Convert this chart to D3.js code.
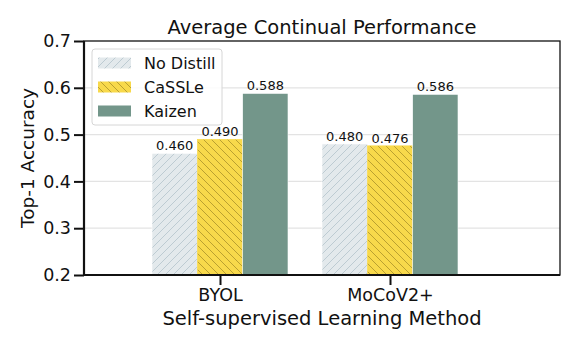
<!DOCTYPE html>
<html>
<head>
<meta charset="utf-8">
<script src="https://cdn.jsdelivr.net/npm/d3@7"></script>
<style>
  body { margin: 0; background: #fff; }
  text { font-family: "DejaVu Sans", sans-serif; fill: #111; }
</style>
</head>
<body>
<div id="chart"></div>
<script>
var methods = ["BYOL", "MoCoV2+"];
var seriesNames = ["No Distill", "CaSSLe", "Kaizen"];
var noDistill = [0.460, 0.480];
var cassle = [0.490, 0.476];
var kaizen = [0.588, 0.586];
var yTicks = [0.2, 0.3, 0.4, 0.5, 0.6, 0.7];

var W = 581, H = 349;
var mLeft = 84, mRight = 560, mTop = 41, mBottom = 275;

var svg = d3.select("#chart").append("svg")
    .attr("width", W).attr("height", H);

var defs = svg.append("defs");
// hatch patterns
var p1 = defs.append("pattern").attr("id", "hatchFwd")
    .attr("patternUnits", "userSpaceOnUse").attr("width", 8).attr("height", 8);
p1.append("rect").attr("width", 8).attr("height", 8).attr("fill", "#e3e9ec");
p1.append("path").attr("d", "M-2,2 L2,-2 M0,8 L8,0 M6,10 L10,6")
    .attr("stroke", "#b9c7cf").attr("stroke-width", 0.9);
var p2 = defs.append("pattern").attr("id", "hatchBack")
    .attr("patternUnits", "userSpaceOnUse").attr("width", 8).attr("height", 8);
p2.append("rect").attr("width", 8).attr("height", 8).attr("fill", "#f8d94b");
p2.append("path").attr("d", "M-2,6 L2,10 M0,0 L8,8 M6,-2 L10,2")
    .attr("stroke", "#b39a2c").attr("stroke-width", 0.9);

var fills = ["url(#hatchFwd)", "url(#hatchBack)", "#73968a"];
var allSeries = [noDistill, cassle, kaizen];

var x = d3.scaleLinear().domain([-0.8, 2.0]).range([mLeft, mRight]);
var y = d3.scaleLinear().domain([0.2, 0.7]).range([mBottom, mTop]);
var bw = 0.8 / 3;

// grid
svg.append("g").selectAll("line").data(yTicks.slice(1, -1)).enter().append("line")
    .attr("x1", mLeft).attr("x2", mRight)
    .attr("y1", function(d){ return y(d); }).attr("y2", function(d){ return y(d); })
    .attr("stroke", "#e3e3e3").attr("stroke-width", 1.2);

// bars
var bars = [];
allSeries.forEach(function(vals, s){
    vals.forEach(function(v, i){
        bars.push({s: s, i: i, v: v});
    });
});
svg.append("g").selectAll("rect").data(bars).enter().append("rect")
    .attr("x", function(d){ return x(d.i + (d.s - 1.5) * bw); })
    .attr("width", function(d){ return x(bw) - x(0); })
    .attr("y", function(d){ return y(d.v); })
    .attr("height", function(d){ return y(0.2) - y(d.v); })
    .attr("fill", function(d){ return fills[d.s]; })
    .attr("stroke", function(d){ return d.s == 1 ? "#f8d94b" : "#ffffff"; })
    .attr("stroke-width", 0.6);

// value labels
svg.append("g").selectAll("text").data(bars).enter().append("text")
    .attr("x", function(d){ return x(d.i + (d.s - 1) * bw); })
    .attr("y", function(d){ return y(d.v) - 3; })
    .attr("text-anchor", "middle")
    .style("font-size", "13px")
    .text(function(d){ return d.v.toFixed(3); });

// frame
svg.append("rect").attr("x", mLeft).attr("y", mTop)
    .attr("width", mRight - mLeft).attr("height", mBottom - mTop)
    .attr("fill", "none").attr("stroke", "#111").attr("stroke-width", 1.3);

// axes
var yAxis = svg.append("g").attr("transform", "translate(" + mLeft + ",0)")
    .call(d3.axisLeft(y).tickValues(yTicks).tickFormat(d3.format(".1f")).tickSize(10).tickPadding(3));
var xAxis = svg.append("g").attr("transform", "translate(0," + mBottom + ")")
    .call(d3.axisBottom(x).tickValues([0, 1]).tickFormat(function(d){ return methods[d]; }).tickSize(10).tickPadding(4));
[yAxis, xAxis].forEach(function(a){
    a.select(".domain").attr("stroke", "#111").attr("stroke-width", 2.2);
    a.selectAll(".tick line").attr("stroke", "#111").attr("stroke-width", 2);
    a.selectAll(".tick text").style("font-size", "17.5px").attr("fill", "#111")
        .style("font-family", "DejaVu Sans, sans-serif");
});
yAxis.select(".domain").attr("d", "M0," + mBottom + "V" + mTop);
xAxis.select(".domain").attr("d", "M" + mLeft + ",0H" + mRight);

// titles
svg.append("text").attr("x", (mLeft + mRight) / 2).attr("y", 34)
    .attr("text-anchor", "middle").style("font-size", "19.5px")
    .text("Average Continual Performance");
svg.append("text").attr("x", (mLeft + mRight) / 2).attr("y", 325)
    .attr("text-anchor", "middle").style("font-size", "19.5px")
    .text("Self-supervised Learning Method");
svg.append("text").attr("transform", "translate(34," + ((mTop + mBottom) / 2) + ") rotate(-90)")
    .attr("text-anchor", "middle").style("font-size", "18.5px")
    .text("Top-1 Accuracy");

// legend
var lg = svg.append("g").attr("transform", "translate(92,49)");
lg.append("rect").attr("width", 130).attr("height", 76).attr("rx", 3)
    .attr("fill", "#fff").attr("fill-opacity", 0.85)
    .attr("stroke", "#d6d6d6").attr("stroke-width", 1);
seriesNames.forEach(function(name, k){
    var yy = 14 + k * 24;
    lg.append("rect").attr("x", 6).attr("y", yy - 5.5).attr("width", 33).attr("height", 11)
        .attr("fill", fills[k]);
    lg.append("text").attr("x", 52).attr("y", yy + 6)
        .style("font-size", "16px").text(name);
});
</script>
</body>
</html>
